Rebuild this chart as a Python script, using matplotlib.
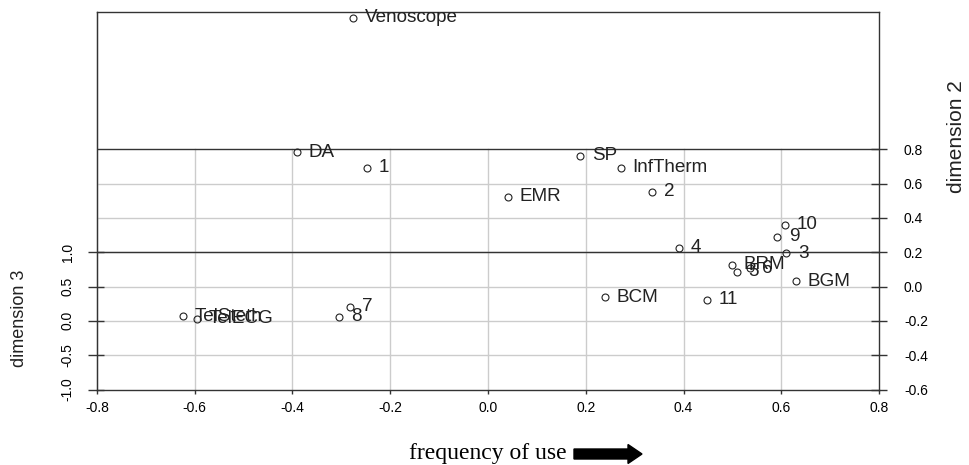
import numpy as np
import matplotlib
matplotlib.use("Agg")
import matplotlib.pyplot as plt
from matplotlib.patches import FancyArrow

plt.rcParams['font.family'] = ['Liberation Sans', 'DejaVu Sans']
plt.rcParams['axes.unicode_minus'] = False

# MDS configuration: frequency of use (x), dimension 2 (y), dimension 3 (z)
names = ["Venoscope", "DA", "1", "SP", "InfTherm", "EMR", "2", "4", "10", "9", "3",
         "BRM", "5", "6", "BGM", "11", "BCM", "TelSteth", "TelECG", "7", "8"]
freq = [-0.276, -0.391, -0.248, 0.188, 0.272, 0.041, 0.336, 0.391, 0.608, 0.591, 0.610,
        0.499, 0.509, 0.536, 0.630, 0.448, 0.239, -0.624, -0.595, -0.282, -0.305]
dim2 = [0.785, 0.344, 0.271, 0.381, 0.291, 0.162, 0.131, -0.095, 0.079, -0.011, -0.065,
        -0.154, -0.175, -0.172, -0.188, -0.278, -0.301, -0.412, -0.409, -0.399, -0.437]
dim3 = [0.95, 0.10, 0.05, -0.05, 0.00, -0.10, 0.05, -0.20, -0.30, -0.25, -0.35,
        -0.30, -0.35, -0.30, -0.45, -0.50, -0.40, -0.40, -0.45, -0.30, -0.35]

x_ticks = [-0.8, -0.6, -0.4, -0.2, 0.0, 0.2, 0.4, 0.6, 0.8]
y_ticks = [-0.6, -0.4, -0.2, 0.0, 0.2, 0.4, 0.6, 0.8]
z_ticks = [-1.0, -0.5, 0.0, 0.5, 1.0]

xlim = (-0.8, 0.8)
ylim = (-0.6, 0.8)
zlim = (-1.0, 1.0)
zfac = 0.4   # vertical shift of one z unit, in y units (angle = 90)

def to_v(y, z):
    return np.asarray(y) + zfac * (np.asarray(z) - zlim[0])

def v_to_z(v):
    return (np.asarray(v) - ylim[0]) / zfac + zlim[0]

def z_to_v(z):
    return zfac * (np.asarray(z) - zlim[0]) + ylim[0]

W, H = 969, 465
fig = plt.figure(figsize=(W / 100, H / 100), dpi=100)
vtop = to_v(ylim[1], zlim[1])
ppu = 171.6
ax = fig.add_axes([97 / W, (H - 389.5) / H, 782 / W, (vtop - ylim[0]) * ppu / H])
ax.set_xlim(xlim)
ax.set_ylim(ylim[0], vtop)

dark = '#333333'
grid = '#cccccc'
for s in ax.spines.values():
    s.set_color(dark)
    s.set_linewidth(1.0)

# grid on the x-y floor
for xv in x_ticks[1:-1]:
    ax.plot([xv, xv], [ylim[0], ylim[1]], color=grid, lw=1.0, zorder=1)
for yv in y_ticks[1:-1]:
    ax.plot(xlim, [yv, yv], color=grid, lw=1.0, zorder=1)

# box edges
ax.axhline(ylim[1], color=dark, lw=1.0, zorder=2)
ax.axhline(to_v(ylim[0], zlim[1]), color=dark, lw=1.0, zorder=2)

# points
v = to_v(dim2, dim3)
ax.plot(freq, v, 'o', mfc='none', mec='#222222', ms=5, mew=0.8, zorder=3)
for n, xx, vv in zip(names, freq, v):
    ax.annotate(n, (xx, vv), xytext=(8.5, 0), textcoords='offset points',
                ha='left', va='center', fontsize=13.6, color='#222222', zorder=4)

# x axis
ax.set_xticks(x_ticks)
ax.set_xticklabels([f"{t:.1f}" for t in x_ticks])
ax.tick_params(axis='x', direction='out', length=3, width=1, color=dark,
               labelsize=10, pad=5)

# dimension 2 on the right
ax.yaxis.tick_right()
ax.set_yticks(y_ticks)
ax.set_yticklabels([f"{t:.1f}" for t in y_ticks])
ax.tick_params(axis='y', direction='inout', length=12, width=1, color=dark,
               labelsize=10, pad=12)

# dimension 3 on the left (tick marks drawn on the main axes so they stay crisp)
zv = z_to_v(z_ticks)
ax.hlines(zv, -0.8 - 9 / 488.75, -0.8 + 7 / 488.75, color=dark, lw=1.0,
          zorder=5, clip_on=False)
sec = ax.secondary_yaxis('left', functions=(v_to_z, z_to_v))
sec.set_yticks(z_ticks)
sec.set_yticklabels([f"{t:.1f}" for t in z_ticks], rotation=90, va='center')
sec.tick_params(length=0, labelsize=10, pad=16)
sec.spines['left'].set_color(dark)

fig.text(20 / W, 1 - 318 / H, "dimension 3", rotation=90, ha='center', va='center',
         fontsize=13, color='#222222')
fig.text(957 / W, 1 - 137 / H, "dimension 2", rotation=90, ha='center', va='center',
         fontsize=15, color='#222222')
fig.text(488 / W, 1 - 453 / H, "frequency of use", ha='center', va='center',
         fontsize=17, family=['Liberation Serif', 'DejaVu Serif'], color='black')

arrow = FancyArrow(5.74, (H - 454) / 100, 0.68, 0, width=0.10, head_width=0.19,
                   head_length=0.14, length_includes_head=True, color='black',
                   transform=fig.dpi_scale_trans)
fig.add_artist(arrow)

fig.savefig("out.png", dpi=100)
